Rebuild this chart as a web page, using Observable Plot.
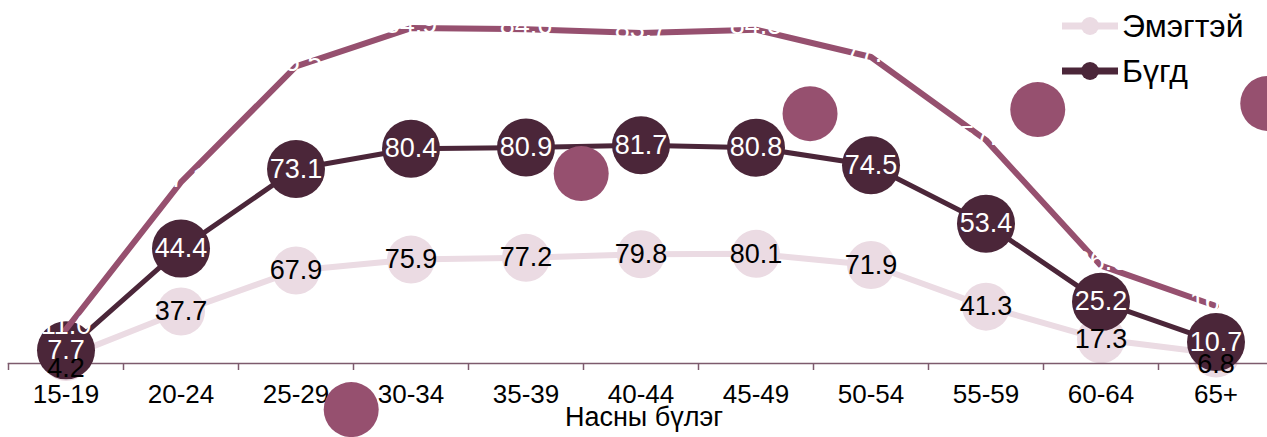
<!DOCTYPE html>
<html><head><meta charset="utf-8">
<script src="https://cdn.jsdelivr.net/npm/d3@7"></script>
<script src="https://cdn.jsdelivr.net/npm/@observablehq/plot@0.6"></script>
<style>
body{margin:0;background:#fff;font-family:"Liberation Sans",Arial,sans-serif;}
#wrap{position:relative;width:1267px;height:437px;overflow:hidden;}
.legend{position:absolute;left:1062px;top:0;}
.row{position:absolute;left:0;display:flex;align-items:center;height:40px;white-space:nowrap;}
.row span{font-size:32px;color:#000;margin-left:4px;}
</style></head><body><div id="wrap"></div>
<script>
// ---- data ----
const ageGroups = ["15-19","20-24","25-29","30-34","35-39","40-44","45-49","50-54","55-59","60-64","65+"];
const womenValues = [4.2,37.7,67.9,75.9,77.2,79.8,80.1,71.9,41.3,17.3,6.8];
const totalValues = [7.7,44.4,73.1,80.4,80.9,81.7,80.8,74.5,53.4,25.2,10.7];
const menValues   = [11.0,47.1,75.5,84.9,84.6,83.7,84.5,77.8,57.4,26.6,16.7];
const strayIndex  = [2.48,4.48,6.47,8.45,10.45];
const strayValues = [-8.7,49.2,63.9,64.9,66.4];
const seriesNames = ["Эмэгтэй","Бүгд","Эрэгтэй"];
const xTitle = "Насны бүлэг";

const colors = {women:"#ebdbe3", total:"#4b2639", men:"#96506f", axis:"#7d5b6d"};
const rows = vals => vals.map((v,i)=>({i, g: ageGroups[i], v}));
const women = rows(womenValues), total = rows(totalValues), men = rows(menValues);
const stray = strayIndex.map((i,k)=>({i, v: strayValues[k]}));
const boundaries = d3.range(ageGroups.length).map(i=>i-0.5);
const centers = d3.range(ageGroups.length);

const yRanges = {women:[362.3,226.3], total:[371.2,94], men:[373.6,-34]};
const font = "'Liberation Sans', Arial, sans-serif";

function layer(yRange, marks, xAxis=false){
  return Plot.plot({
    width:1267, height:437,
    marginLeft:8, marginRight:0, marginTop:0, marginBottom:74,
    x:{type:"linear", domain:[-0.5,10.5], range:[8,1273], ...(xAxis?{}:{axis:null})},
    y:{domain:[0,100], range:yRange, axis:null},
    style:{background:"transparent", fontFamily:font, overflow:"visible", position:"absolute", left:"0px", top:"0px"},
    marks
  });
}

const wrap = document.getElementById("wrap");
const layers = [
  layer(yRanges.women, [
    Plot.line(women, {x:"i", y:"v", stroke:colors.women, strokeWidth:6}),
    Plot.dot(women, {x:"i", y:"v", r:24, fill:colors.women}),
    Plot.frame({anchor:"bottom", stroke:colors.axis, strokeWidth:1.5}),
    Plot.axisX(boundaries, {tickSize:7, tickFormat:()=>"", stroke:colors.axis, strokeWidth:1.5, label:null}),
    Plot.axisX(centers, {tickSize:0, tickPadding:21, tickFormat:i=>ageGroups[i], fontSize:26, fill:"#000", label:null}),
    Plot.text([xTitle], {frameAnchor:"bottom", dy:62, dx:6, fontSize:27, fill:"#000"})
  ], true),
  layer(yRanges.total, [
    Plot.line(total, {x:"i", y:"v", stroke:colors.total, strokeWidth:5}),
    Plot.dot(total, {x:"i", y:"v", r:29, fill:colors.total})
  ]),
  layer(yRanges.men, [
    Plot.line(men, {x:"i", y:"v", stroke:colors.men, strokeWidth:6}),
    Plot.dot(stray, {x:"i", y:"v", r:27.5, fill:colors.men})
  ]),
  layer(yRanges.women, [
    Plot.text(women.filter(d=>d.v>=10), {x:"i", y:"v", text:d=>d.v.toFixed(1), fontSize:27, fill:"#000"}),
    Plot.text(women.filter(d=>d.v<10), {x:"i", y:"v", text:d=>d.v.toFixed(1), fontSize:27, fill:"#000", dy:11})
  ]),
  layer(yRanges.total, [
    Plot.text(total, {x:"i", y:"v", text:d=>d.v.toFixed(1), fontSize:27, fill:"#fff"})
  ]),
  layer(yRanges.men, [
    Plot.text(men, {x:"i", y:"v", text:d=>d.v.toFixed(1), fontSize:27, fill:"#fff", dy:-4})
  ])
];
layers.forEach(s=>wrap.appendChild(s));

// legend (first two series shown)
const legend = document.createElement("div");
legend.className = "legend";
[[seriesNames[0], colors.women, 7], [seriesNames[1], colors.total, 7]].forEach(([name,c,w],k)=>{
  const row = document.createElement("div");
  row.className = "row";
  row.style.top = (6 + k*45) + "px";
  row.innerHTML = `<svg width="56" height="20"><line x1="0" x2="56" y1="10" y2="10" stroke="${c}" stroke-width="${w}"/><circle cx="28" cy="10" r="9" fill="${c}"/></svg><span>${name}</span>`;
  legend.appendChild(row);
});
wrap.appendChild(legend);
</script>
</body></html>
